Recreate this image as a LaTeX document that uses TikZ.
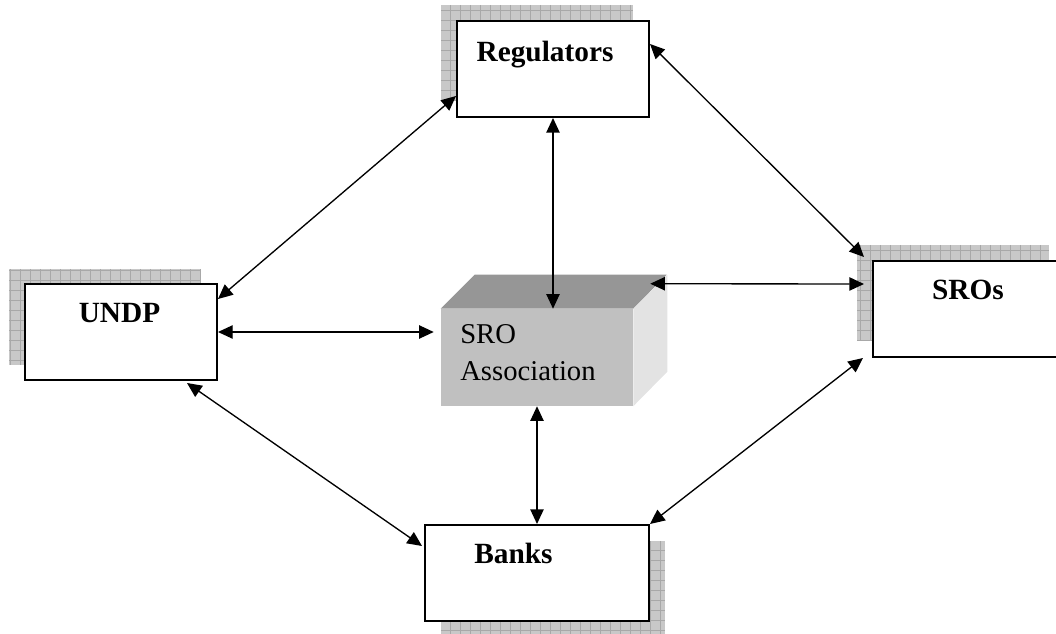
\documentclass[tikz,border=0pt]{standalone}
\usepackage{fontspec}
\setmainfont{Liberation Serif}
\usetikzlibrary{arrows.meta}
\definecolor{shade_fill}{RGB}{200, 200, 200}
\definecolor{shade_line}{RGB}{168, 168, 168}
\definecolor{assoc_front}{RGB}{192, 192, 192}
\definecolor{assoc_top}{RGB}{150, 150, 150}
\definecolor{assoc_side}{RGB}{227, 227, 227}

% hatched drop shadow behind a box: x1, y1, x2, y2
\newcommand{\gridshadow}[4]{%
  \begin{scope}
    \clip (#1,#2) rectangle (#3,#4);
    \fill[shade_fill] (#1,#2) rectangle (#3,#4);
    \foreach \gx in {0,10,...,1060} { \draw[shade_line, line width=0.5pt] (\gx,#2) -- (\gx,#4); }
    \foreach \gy in {0,10,...,640} { \draw[shade_line, line width=0.5pt] (#1,\gy) -- (#3,\gy); }
  \end{scope}}

\tikzset{
  partybox/.style={draw, fill=white, line width=1.5pt, minimum width=144pt, minimum height=72pt},
  partylabel/.style={font=\fontsize{22}{26}\selectfont\bfseries, anchor=base, inner sep=0pt},
  link/.style={{Triangle[length=11pt,width=10pt]}-{Triangle[length=11pt,width=10pt]}, line width=1pt}
}

\begin{document}
\begin{tikzpicture}[x=0.75pt, y=-0.75pt]
        \useasboundingbox (0,0) rectangle (1056,634);
        \clip (0,0) rectangle (1056,634);

        % shadows
        \gridshadow{441}{5}{633}{101}
        \gridshadow{9}{269}{201}{365}
        \gridshadow{857}{245}{1049}{341}
        \gridshadow{441}{541}{665}{637}

        % parties
        \node[partybox] (reg) at (553,69) {};
        \node[partybox] (undp) at (121,332) {};
        \node[partybox] (sros) at (969,309) {};
        \node[partybox, minimum width=168pt] (banks) at (537,573) {};

        \node[partylabel] (reglabel) at (545,62) {Regulators};
        \node[partylabel] (undplabel) at (119.5,323) {UNDP};
        \node[partylabel] (sroslabel) at (968,300) {SROs};
        \node[partylabel] (bankslabel) at (513.5,563) {Banks};

        % SRO Association block
        \node[fill=assoc_front, minimum width=144pt, minimum height=72.75pt, inner sep=0pt] (assoc) at (537,357.5) {};
        \fill[assoc_top] (assoc.north west) -- ++(34,-34) -- ++(192,0) -- (assoc.north east) -- cycle;
        \fill[assoc_side] (assoc.north east) -- ++(34,-34) -- ++(0,97) -- (assoc.south east) -- cycle;
        \node[font=\fontsize{21.5}{27.75}\selectfont, align=left, anchor=base west, inner sep=0pt] (assoclabel) at (460,380) {SRO\\Association};

        % links
        \draw[link] ([yshift=16.5pt]reg.south west) -- ([yshift=-12pt]undp.north east);
        \draw[link] ([yshift=-18pt]reg.north east) -- ([xshift=-6pt,yshift=2.25pt]sros.north west);
        \draw[link] (reg.south) -- (reg.south |- assoc.north);
        \draw[link] (undp.east) -- ([xshift=-5.25pt]undp.east -| assoc.west);
        \draw[link] ([xshift=12.75pt,yshift=18.75pt]assoc.north east) -- ([xshift=-6pt,yshift=18.75pt]sros.west);
        \draw[link] ([xshift=-23.25pt,yshift=-1.5pt]undp.south east) -- ([xshift=-1.5pt,yshift=-16.5pt]banks.north west);
        \draw[link] (assoc.south) -- (banks.north);
        \draw[link] ([xshift=-6.75pt]sros.south west) -- (banks.north east);
      \end{tikzpicture}
\end{document}
